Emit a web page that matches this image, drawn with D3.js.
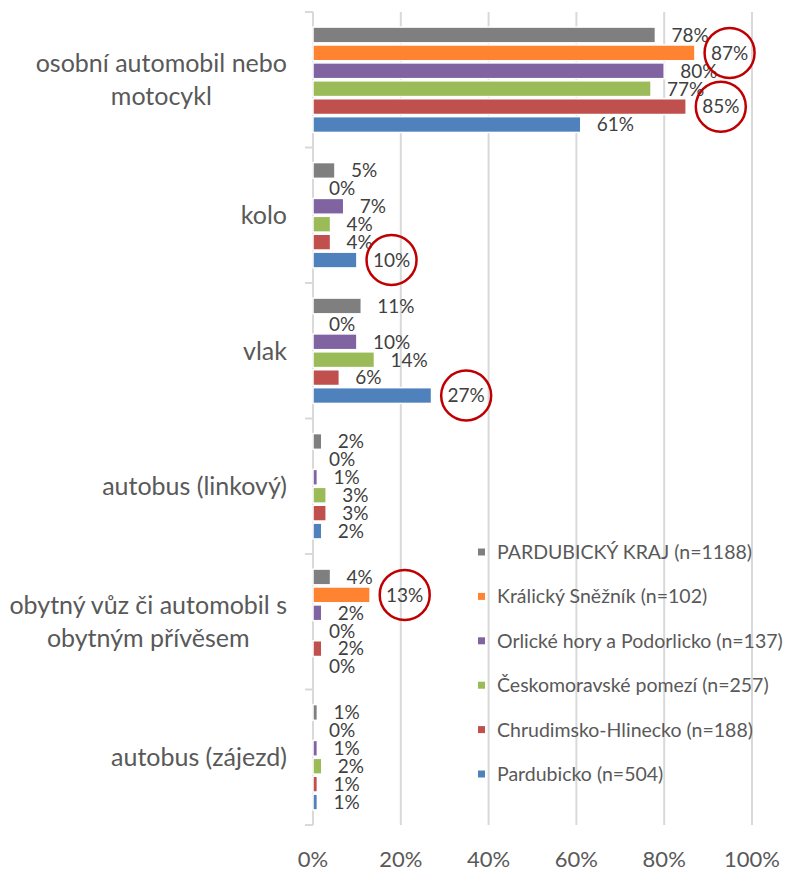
<!DOCTYPE html>
<html>
<head>
<meta charset="utf-8">
<script src="https://cdn.jsdelivr.net/npm/d3@7"></script>
<style>
  body { margin: 0; background: #fff; }
  text { font-family: Lato, "Open Sans", sans-serif; }
</style>
</head>
<body>
<div id="chart"></div>
<script>
/** data **/
var categories = [
    "osobní automobil nebo\nmotocykl",
    "kolo",
    "vlak",
    "autobus (linkový)",
    "obytný vůz či automobil s\nobytným přívěsem",
    "autobus (zájezd)"
];
var seriesNames = [
    "PARDUBICKÝ KRAJ (n=1188)",
    "Králický Sněžník (n=102)",
    "Orlické hory a Podorlicko (n=137)",
    "Českomoravské pomezí (n=257)",
    "Chrudimsko-Hlinecko (n=188)",
    "Pardubicko (n=504)"
];
var seriesColors = ["#7f7f7f", "#ff8331", "#8064a2", "#9bbb59", "#c0504d", "#4f81bd"];

// values in % per category, same order as categories
var krajValues       = [78, 5, 11, 2, 4, 1];
var kralickyValues   = [87, 0, 0, 0, 13, 0];
var orlickeValues    = [80, 7, 10, 1, 2, 1];
var ceskomorValues   = [77, 4, 14, 3, 0, 2];
var chrudimValues    = [85, 4, 6, 3, 2, 1];
var pardubickoValues = [61, 10, 27, 2, 0, 1];
var seriesValues = [krajValues, kralickyValues, orlickeValues, ceskomorValues, chrudimValues, pardubickoValues];

var xTicks = [0, 20, 40, 60, 80, 100];

// labels circled in red: [category index, series index]
var highlighted = [[0, 1], [0, 4], [1, 5], [2, 5], [4, 1]];

/** layout **/
var width = 786,
    height = 871,
    plotLeft = 313,
    plotRight = 752,
    plotTop = 12,
    plotBottom = 825,
    labelGap = 16;

var svg = d3.select("#chart").append("svg")
    .attr("width", width)
    .attr("height", height);

var x = d3.scaleLinear().domain([0, 100]).range([plotLeft, plotRight]);

var y0 = d3.scaleBand()
    .domain(categories)
    .range([plotTop, plotBottom]);

var y1 = d3.scaleBand()
    .domain(d3.range(seriesNames.length))
    .range([14, y0.bandwidth() - 14])
    .paddingInner(0.12)
    .paddingOuter(0.06);

// gridlines
svg.append("g")
    .selectAll("line")
    .data(xTicks.slice(1))
    .enter().append("line")
    .attr("x1", function(d) { return x(d); })
    .attr("x2", function(d) { return x(d); })
    .attr("y1", plotTop)
    .attr("y2", plotBottom)
    .style("stroke", "#d9d9d9")
    .style("stroke-width", 2);

// category axis with bracket ticks
var yAxis = svg.append("g");
yAxis.append("line")
    .attr("x1", plotLeft).attr("x2", plotLeft)
    .attr("y1", plotTop).attr("y2", plotBottom)
    .style("stroke", "#d9d9d9")
    .style("stroke-width", 2);
yAxis.selectAll(".tick")
    .data(categories.map(function(c) { return y0(c); }).concat([plotBottom]))
    .enter().append("line")
    .attr("class", "tick")
    .attr("x1", plotLeft - 8).attr("x2", plotLeft)
    .attr("y1", function(d) { return d; })
    .attr("y2", function(d) { return d; })
    .style("stroke", "#d9d9d9")
    .style("stroke-width", 2);

// x tick labels
svg.append("g")
    .selectAll("text")
    .data(xTicks)
    .enter().append("text")
    .attr("x", function(d) { return x(d); })
    .attr("y", 859)
    .attr("dy", "0.36em")
    .attr("text-anchor", "middle")
    .style("font-size", "22px")
    .style("fill", "#595959")
    .text(function(d) { return d + "%"; });

// category labels: block right-aligned at the axis, lines centered in block
categories.forEach(function(cat) {
    var lines = cat.split("\n");
    var lineHeight = 33;
    var cy = y0(cat) + y0.bandwidth() / 2;
    var g = svg.append("g");
    var texts = g.selectAll("text")
        .data(lines)
        .enter().append("text")
        .attr("y", function(d, i) { return cy + (i - (lines.length - 1) / 2) * lineHeight; })
        .attr("dy", "0.36em")
        .attr("text-anchor", "middle")
        .style("font-size", "25px")
        .style("fill", "#595959")
        .text(function(d) { return d; });
    var blockW = 0;
    texts.each(function() { blockW = Math.max(blockW, this.getComputedTextLength()); });
    texts.attr("x", 287 - blockW / 2);
});

// bars + labels
var barData = [];
categories.forEach(function(cat, ci) {
    seriesValues.forEach(function(vals, si) {
        barData.push({ cat: cat, ci: ci, si: si, value: vals[ci] });
    });
});

svg.append("g").selectAll("rect")
    .data(barData)
    .enter().append("rect")
    .attr("x", x(0))
    .attr("y", function(d) { return y0(d.cat) + y1(d.si); })
    .attr("width", function(d) { return x(d.value) - x(0); })
    .attr("height", y1.bandwidth())
    .style("fill", function(d) { return seriesColors[d.si]; })
    .style("stroke", "#fff")
    .style("stroke-width", 1.5);

var labels = svg.append("g").selectAll("text")
    .data(barData)
    .enter().append("text")
    .attr("x", function(d) { return x(d.value) + labelGap; })
    .attr("y", function(d) { return y0(d.cat) + y1(d.si) + y1.bandwidth() / 2; })
    .attr("dy", "0.36em")
    .style("font-size", "19px")
    .style("fill", "#404040")
    .text(function(d) { return d.value + "%"; });

// red circles around selected labels
labels.each(function(d) {
    var hit = highlighted.some(function(h) { return h[0] == d.ci && h[1] == d.si; });
    if (!hit) return;
    var w = this.getComputedTextLength();
    svg.append("circle")
        .attr("cx", x(d.value) + labelGap + w / 2)
        .attr("cy", y0(d.cat) + y1(d.si) + y1.bandwidth() / 2)
        .attr("r", 25)
        .style("fill", "none")
        .style("stroke", "#c00000")
        .style("stroke-width", 2.5);
});

// legend
var legend = svg.append("g").selectAll("g")
    .data(seriesNames)
    .enter().append("g")
    .attr("transform", function(d, i) { return "translate(478," + (552 + i * 44.4) + ")"; });
legend.append("rect")
    .attr("x", 0).attr("y", -3.5)
    .attr("width", 7).attr("height", 7)
    .style("fill", function(d, i) { return seriesColors[i]; });
legend.append("text")
    .attr("x", 19)
    .attr("dy", "0.36em")
    .style("font-size", "19.5px")
    .style("fill", "#595959")
    .text(function(d) { return d; });
</script>
</body>
</html>
